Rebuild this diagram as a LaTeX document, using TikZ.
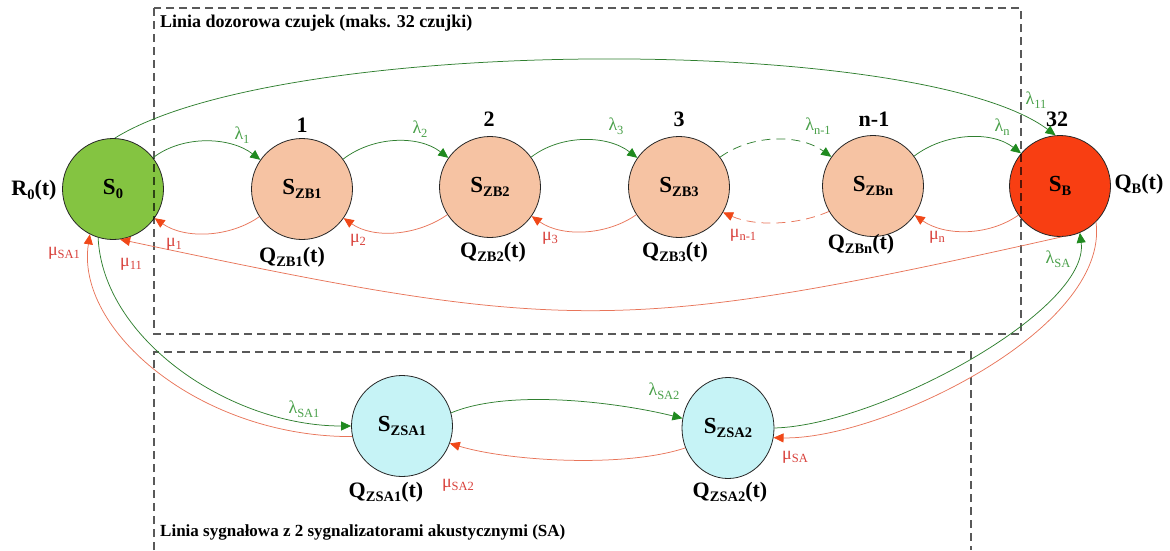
\documentclass[tikz,border=0pt]{standalone}
\usepackage{fontspec}
\setmainfont{Liberation Serif}
\usetikzlibrary{arrows.meta,shapes.geometric}

\definecolor{fwdline}{HTML}{2F7F2F}
\definecolor{fwdtip}{HTML}{1F8A1F}
\definecolor{fwdtext}{HTML}{4AA04A}
\definecolor{bwdline}{HTML}{E8755A}
\definecolor{bwdtip}{HTML}{F04818}
\definecolor{bwdtext}{HTML}{D8403A}
\definecolor{idlefill}{HTML}{84C441}
\definecolor{zbfill}{HTML}{F6C3A3}
\definecolor{alarmfill}{HTML}{F83E12}
\definecolor{sirenfill}{HTML}{C6F3F6}

% lowered, smaller index text
\newcommand\idx[1]{\raisebox{-0.45ex}{\fontsize{14.5}{14.5}\selectfont #1}}
\newcommand\gidx[1]{\raisebox{-0.45ex}{\fontsize{12.5}{12.5}\selectfont #1}}

\tikzset{
  state/.style={circle, draw=black!85, line width=0.8pt, minimum size=101pt,
    inner sep=0pt, font=\bfseries\fontsize{23}{23}\selectfont},
  tag/.style={font=\bfseries\fontsize{22}{22}\selectfont, inner sep=1pt},
  fwd/.style={draw=fwdline, line width=0.75pt,
    -{Triangle[length=10pt,width=9pt,color=fwdtip]}},
  bwd/.style={draw=bwdline, line width=0.75pt,
    -{Triangle[length=10pt,width=9pt,color=bwdtip]}},
  flab/.style={text=fwdtext, font=\fontsize{18}{18}\selectfont, inner sep=1pt},
  blab/.style={text=bwdtext, font=\fontsize{18}{18}\selectfont, inner sep=1pt},
  zone/.style={draw=black, draw opacity=0.65, line width=1.1pt, dash pattern=on 8pt off 5pt},
  zonetitle/.style={anchor=west, font=\bfseries\fontsize{18}{18}\selectfont, inner sep=0pt},
}

\begin{document}
\begin{tikzpicture}[x=1pt,y=-1pt]
\useasboundingbox (0,0) rectangle (1170,550);

% states
\node[state, fill=idlefill] (s0) at (113,189) {S\idx{0}};
\node[state, fill=zbfill] (zb1) at (302,189) {S\idx{ZB1}};
\node[state, fill=zbfill] (zb2) at (490,187) {S\idx{ZB2}};
\node[state, fill=zbfill] (zb3) at (679,187) {S\idx{ZB3}};
\node[state, fill=zbfill] (zbn) at (873,186) {S\idx{ZBn}};
\node[state, fill=alarmfill] (sb) at (1060,186) {S\idx{B}};
\node[state, fill=sirenfill] (sa1) at (402,426) {S\idx{ZSA1}};
\node[state, ellipse, fill=sirenfill, minimum width=92pt, minimum height=101pt] (sa2) at (728,428) {S\idx{ZSA2}};

% zones, drawn over the states
\draw[zone] (154,8) rectangle (1021,334);
\draw[zone] (154,550) -- (154,352) -- (971,352) -- (971,550);
\node[zonetitle] (ttop) at (160,23) {Linia dozorowa czujek (maks. 32 czujki)};
\node[zonetitle, font=\bfseries\fontsize{17}{17}\selectfont] (tbot) at (160,532) {Linia sygnałowa z 2 sygnalizatorami akustycznymi (SA)};

% state tags
\node[tag] (r0) at (34,190) {R\idx{0}(t)};
\node[tag] (n1) at (302,125) {1};
\node[tag] (n2) at (489,119) {2};
\node[tag] (n3) at (679,119) {3};
\node[tag] (nn) at (874,119) {n-1};
\node[tag] (n32) at (1057,119) {32};
\node[tag] (q1) at (292,257) {Q\idx{ZB1}(t)};
\node[tag] (q2) at (493,252) {Q\idx{ZB2}(t)};
\node[tag] (q3) at (675,252) {Q\idx{ZB3}(t)};
\node[tag] (qn) at (861,244) {Q\idx{ZBn}(t)};
\node[tag] (qb) at (1139,184) {Q\idx{B}(t)};
\node[tag] (qa1) at (386,492) {Q\idx{ZSA1}(t)};
\node[tag] (qa2) at (730,492) {Q\idx{ZSA2}(t)};

% forward transitions along the detector line
\draw[fwd] (s0.38) .. controls +(30,-23) and +(-30,-23) .. (zb1.145);
\draw[fwd] (zb1.36) .. controls +(30,-23) and +(-30,-23) .. (zb2.145);
\draw[fwd] (zb2.36) .. controls +(30,-23) and +(-30,-23) .. (zb3.145);
\draw[fwd, dash pattern=on 9pt off 6pt] (zb3.36) .. controls +(32,-23) and +(-32,-23) .. (zbn.145);
\draw[fwd] (zbn.36) .. controls +(30,-23) and +(-30,-23) .. (sb.140);

% returns along the detector line
\draw[bwd] (zb1.213) .. controls +(-30,21) and +(30,21) .. (s0.-35);
\draw[bwd] (zb2.213) .. controls +(-30,21) and +(30,21) .. (zb1.-35);
\draw[bwd] (zb3.213) .. controls +(-30,21) and +(30,21) .. (zb2.-35);
\draw[bwd, dash pattern=on 9pt off 6pt] (zbn.210) .. controls +(-32,14) and +(32,14) .. (zb3.-30);
\draw[bwd] (sb.215) .. controls +(-30,21) and +(30,21) .. (zbn.-35);

% long jumps between S0 and SB
\draw[fwd] (s0.88) .. controls (283,34) and (920,34) .. (sb.95);
\draw[bwd] (sb.-88) .. controls (620,336) and (562,333) .. (s0.-82);

% signalling line
\draw[fwd] (s0.-107) .. controls (103,340) and (231,426) .. (sa1.180);
\draw[bwd] (sa1.192) .. controls (200,437) and (75,330) .. (s0.-117);
\draw[fwd] (sa1.15) .. controls +(60,-25) and +(-60,-15) .. (sa2.168);
\draw[bwd] (sa2.205) .. controls +(-60,20) and +(60,18) .. (sa1.-20);
\draw[fwd] (sa2.0) .. controls (880,425) and (1090,310) .. (sb.-67);
\draw[bwd] (sb.-45) .. controls (1110,330) and (880,440) .. (sa2.-12);

% rate labels
\node[flab] (l1) at (242,135) {λ\gidx{1}};
\node[flab] (l2) at (420,129) {λ\gidx{2}};
\node[flab] (l3) at (616,126) {λ\gidx{3}};
\node[flab] (ln1) at (818,126) {λ\gidx{n-1}};
\node[flab] (ln) at (1002,127) {λ\gidx{n}};
\node[flab] (l11) at (1036,100) {λ\gidx{11}};
\node[flab] (lsa) at (1058,259) {λ\gidx{SA}};
\node[flab] (lsa1) at (304,409) {λ\gidx{SA1}};
\node[flab] (lsa2) at (664,391) {λ\gidx{SA2}};
\node[blab] (m1) at (174,244) {μ\gidx{1}};
\node[blab] (m2) at (358,240) {μ\gidx{2}};
\node[blab] (m3) at (550,238) {μ\gidx{3}};
\node[blab] (mn1) at (743,235) {μ\gidx{n-1}};
\node[blab] (mn) at (937,237) {μ\gidx{n}};
\node[blab] (m11) at (131,264) {μ\gidx{11}};
\node[blab] (msa1) at (64,253) {μ\gidx{SA1}};
\node[blab] (msa2) at (458,485) {μ\gidx{SA2}};
\node[blab] (msa) at (795,457) {μ\gidx{SA}};
\end{tikzpicture}
\end{document}
